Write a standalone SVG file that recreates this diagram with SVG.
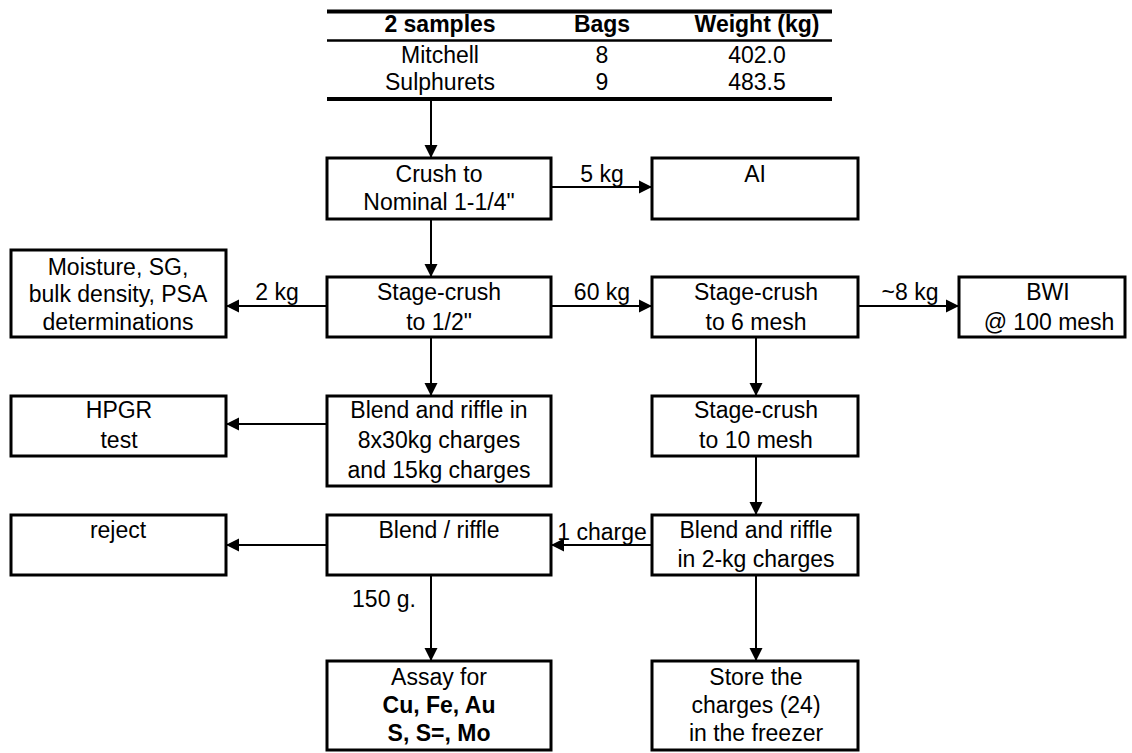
<svg xmlns="http://www.w3.org/2000/svg" width="1132" height="753" viewBox="0 0 1132 753">
<style>
.box{fill:#fff;stroke:#000;stroke-width:3}
.t{font-family:"Liberation Sans",Arial,sans-serif;font-size:23px;fill:#000;text-anchor:middle}
.b{font-weight:bold}
.c{fill:none;stroke:#000;stroke-width:2}
.rule{stroke:#000}
</style>
<defs>
<marker id="ah" markerUnits="userSpaceOnUse" markerWidth="14" markerHeight="14" viewBox="0 0 14 14" refX="13" refY="7" orient="auto">
<path d="M0,0.5 L13,7 L0,13.5 Z" fill="#000"/>
</marker>
</defs>
<rect width="1132" height="753" fill="#fff"/>
<g id="table">
<line class="rule" x1="327" y1="11.5" x2="832" y2="11.5" stroke-width="4"/>
<line class="rule" x1="327" y1="40.5" x2="832" y2="40.5" stroke-width="2.5"/>
<line class="rule" x1="327" y1="99" x2="832" y2="99" stroke-width="4"/>
<text class="t b" x="440" y="32">2 samples</text>
<text class="t b" x="602" y="32">Bags</text>
<text class="t b" x="757" y="32">Weight (kg)</text>
<text class="t" x="440" y="63">Mitchell</text>
<text class="t" x="602" y="63">8</text>
<text class="t" x="757" y="63">402.0</text>
<text class="t" x="440" y="90">Sulphurets</text>
<text class="t" x="602" y="90">9</text>
<text class="t" x="757" y="90">483.5</text>
</g>
<g id="connectors">
<path class="c" d="M431,101 V158" marker-end="url(#ah)"/>
<path class="c" d="M551,187 H652" marker-end="url(#ah)"/>
<path class="c" d="M431,219 V277" marker-end="url(#ah)"/>
<path class="c" d="M327,306 H226" marker-end="url(#ah)"/>
<path class="c" d="M551,306 H652" marker-end="url(#ah)"/>
<path class="c" d="M858,306 H959" marker-end="url(#ah)"/>
<path class="c" d="M431,337 V396" marker-end="url(#ah)"/>
<path class="c" d="M327,424 H226" marker-end="url(#ah)"/>
<path class="c" d="M756,337 V396" marker-end="url(#ah)"/>
<path class="c" d="M756,456 V515" marker-end="url(#ah)"/>
<path class="c" d="M652,545 H551" marker-end="url(#ah)"/>
<path class="c" d="M327,545 H226" marker-end="url(#ah)"/>
<path class="c" d="M431,575 V661" marker-end="url(#ah)"/>
<path class="c" d="M756,575 V661" marker-end="url(#ah)"/>
<text class="t" x="602" y="182">5 kg</text>
<text class="t" x="277" y="300">2 kg</text>
<text class="t" x="602" y="300">60 kg</text>
<text class="t" x="910" y="300">~8 kg</text>
<text class="t" x="602" y="540">1 charge</text>
<text class="t" x="416" y="607" text-anchor="end" style="text-anchor:end">150 g.</text>
</g>
<g id="crush">
<rect class="box" x="327" y="158" width="224" height="61"/>
<text class="t" x="439" y="182">Crush to</text>
<text class="t" x="439" y="210">Nominal 1-1/4"</text>
</g>
<g id="ai">
<rect class="box" x="652" y="158" width="206" height="61"/>
<text class="t" x="755" y="182">AI</text>
</g>
<g id="moisture">
<rect class="box" x="11" y="250" width="215" height="87"/>
<text class="t" x="118" y="275">Moisture, SG,</text>
<text class="t" x="118" y="302">bulk density, PSA</text>
<text class="t" x="118" y="330">determinations</text>
</g>
<g id="stage-half">
<rect class="box" x="327" y="277" width="224" height="60"/>
<text class="t" x="439" y="300">Stage-crush</text>
<text class="t" x="439" y="330">to 1/2"</text>
</g>
<g id="stage-6mesh">
<rect class="box" x="652" y="277" width="206" height="60"/>
<text class="t" x="756" y="300">Stage-crush</text>
<text class="t" x="756" y="330">to 6 mesh</text>
</g>
<g id="bwi">
<rect class="box" x="959" y="277" width="166" height="60"/>
<text class="t" x="1048" y="300">BWI</text>
<text class="t" x="1049" y="330">@ 100 mesh</text>
</g>
<g id="hpgr">
<rect class="box" x="11" y="396" width="215" height="60"/>
<text class="t" x="119" y="418">HPGR</text>
<text class="t" x="119" y="448">test</text>
</g>
<g id="blend-charges">
<rect class="box" x="327" y="396" width="224" height="90"/>
<text class="t" x="439" y="418">Blend and riffle in</text>
<text class="t" x="439" y="448">8x30kg charges</text>
<text class="t" x="439" y="478">and 15kg charges</text>
</g>
<g id="stage-10mesh">
<rect class="box" x="652" y="396" width="206" height="60"/>
<text class="t" x="756" y="418">Stage-crush</text>
<text class="t" x="756" y="448">to 10 mesh</text>
</g>
<g id="reject">
<rect class="box" x="11" y="515" width="215" height="60"/>
<text class="t" x="118" y="538">reject</text>
</g>
<g id="blend-riffle">
<rect class="box" x="327" y="515" width="224" height="60"/>
<text class="t" x="439" y="538">Blend / riffle</text>
</g>
<g id="blend-2kg">
<rect class="box" x="652" y="515" width="206" height="60"/>
<text class="t" x="756" y="538">Blend and riffle</text>
<text class="t" x="756" y="567">in 2-kg charges</text>
</g>
<g id="assay">
<rect class="box" x="327" y="661" width="224" height="89"/>
<text class="t" x="439" y="685">Assay for</text>
<text class="t b" x="439" y="713">Cu, Fe, Au</text>
<text class="t b" x="439" y="741">S, S=, Mo</text>
</g>
<g id="store">
<rect class="box" x="652" y="661" width="206" height="89"/>
<text class="t" x="756" y="685">Store the</text>
<text class="t" x="756" y="713">charges (24)</text>
<text class="t" x="756" y="741">in the freezer</text>
</g>
</svg>
